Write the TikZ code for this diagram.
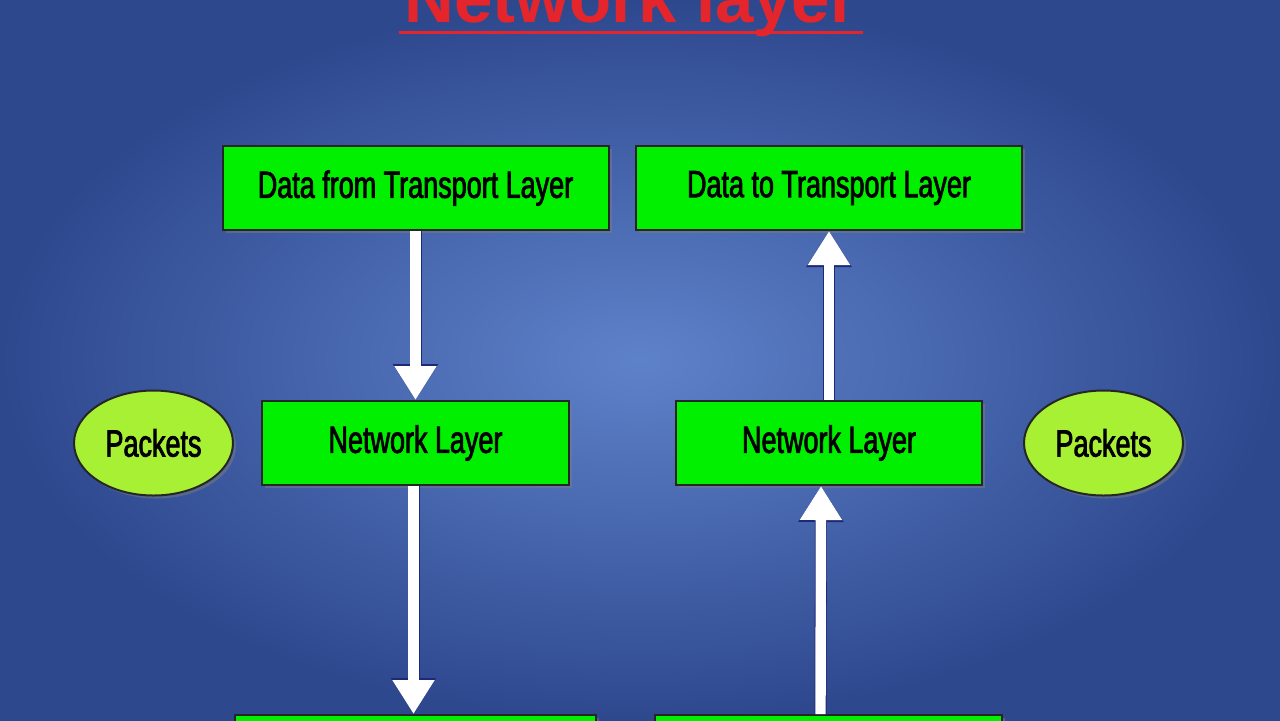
\documentclass[tikz,border=0pt]{standalone}
\usepackage{fontspec}
\setmainfont{Liberation Sans}[FakeStretch=0.71, FakeBold=2]
\newfontfamily\titlefont{Liberation Sans}
\usetikzlibrary{positioning,shapes.geometric,arrows.meta,shadows}

\definecolor{bginner}{RGB}{94,130,202}
\definecolor{bgouter}{RGB}{46,72,142}
\definecolor{boxgreen}{RGB}{0,240,0}
\definecolor{packetgreen}{RGB}{168,240,52}
\definecolor{titlered}{RGB}{228,38,44}
\definecolor{arrowrim}{RGB}{30,40,120}

\tikzset{
	layerbox/.style={rectangle, draw=black!85, line width=1pt, fill=boxgreen, minimum height=42pt, inner sep=0pt, font=\fontsize{19}{21}\selectfont, drop shadow={opacity=0.45, shadow xshift=1.5pt, shadow yshift=-1.5pt}},
	packet/.style={ellipse, draw=black!85, line width=1pt, fill=packetgreen, minimum width=79.5pt, minimum height=52.5pt, inner sep=0pt, font=\fontsize{19}{21}\selectfont, drop shadow={opacity=0.45, shadow xshift=1.5pt, shadow yshift=-1.5pt}},
	flow/.style={preaction={draw=arrowrim, line width=6pt, -{Triangle[width=21.5pt,length=18pt]}}, draw=white, line width=5.2pt, -{Triangle[width=20pt,length=17pt]}}
}

\begin{document}
\begin{tikzpicture}[x=0.5pt, y=-0.5pt]
	
	\clip (0,0) rectangle (1280,720);
	\shade[inner color=bginner, outer color=bgouter] (0,0) rectangle (1280,720);
	
	% title
	\node [anchor=base, inner sep=0pt, text=titlered, font=\titlefont\bfseries\fontsize{34.5}{36}\selectfont] (title) at (631,22) {Network layer};
	\draw [titlered, line width=1.5pt] ([xshift=-2.5pt, yshift=-5pt]title.base west) -- ([xshift=2.5pt, yshift=-5pt]title.base east);
	
	% sender side
	\node [layerbox, minimum width=153.5pt] (nl) at (415.5,443) {Network Layer};
	\node [layerbox, minimum width=193pt, above=84.5pt of nl] (dl) {Data from Transport Layer};
	\node [packet, left=13.5pt of nl] (pl) {Packets};
	\node [layerbox, minimum width=180.5pt] (bl) at (415.5,757) {};
	
	% receiver side
	\node [layerbox, minimum width=153pt] (nr) at (829,443) {Network Layer};
	\node [layerbox, minimum width=193pt, above=84.5pt of nr] (dr) {Data to Transport Layer};
	\node [packet, right=20pt of nr] (pr) {Packets};
	\node [layerbox, minimum width=173.5pt] (br) at (828.5,757) {};
	
	\draw [flow] (dl.south) -- (nl.north);
	\draw [flow] ([xshift=-1pt]nl.south) -- ([xshift=-1pt]bl.north);
	\draw [flow] (nr.north) -- (dr.south);
	\draw [flow] ([xshift=-4pt]br.north) -- ([xshift=-4pt]nr.south);
	
\end{tikzpicture}
\end{document}
